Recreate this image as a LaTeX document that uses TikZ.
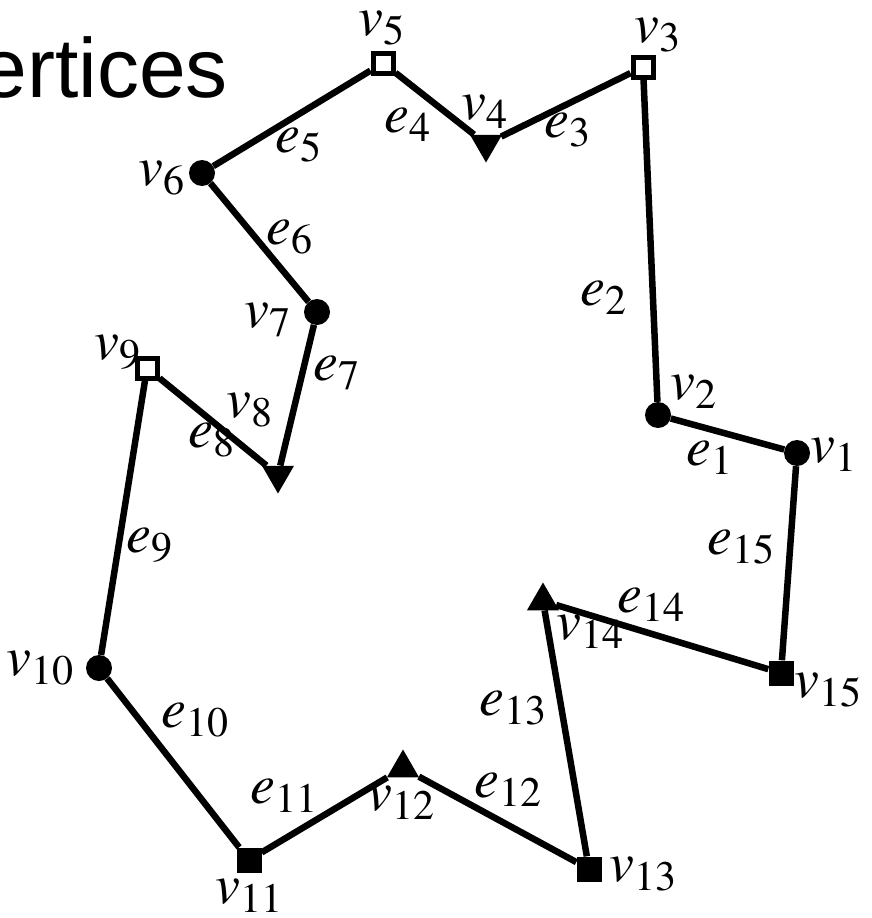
\documentclass[tikz,border=0pt]{standalone}
\usepackage{mathptmx}
\usepackage[no-math]{fontspec}
\newfontfamily\titlefont{Liberation Sans}
\usetikzlibrary{shapes.geometric}
\DeclareMathSizes{56}{56}{42}{34}
\begin{document}
\begin{tikzpicture}[x=1pt,y=-1pt,
  dotv/.style={circle,fill=black,inner sep=0pt,minimum size=26pt},
  opensq/.style={rectangle,draw=black,fill=white,line width=5pt,inner sep=0pt,minimum size=20pt},
  fillsq/.style={rectangle,fill=black,inner sep=0pt,minimum size=25pt},
  tridown/.style={regular polygon,regular polygon sides=3,shape border rotate=180,fill=black,inner sep=0pt,minimum size=37pt},
  triup/.style={regular polygon,regular polygon sides=3,fill=black,inner sep=0pt,minimum size=37pt},
  edge/.style={line width=6.5pt,black},
  lbl/.style={font=\fontsize{56}{60}\selectfont,inner sep=0pt},
  titletext/.style={font=\titlefont\fontsize{84}{90}\selectfont,inner sep=0pt}]
\useasboundingbox (0,0) rectangle (872,918);
\fill[white] (0,0) rectangle (872,918);
\node[titletext,anchor=base east] (title) at (228,97) {ertices};
% vertices
\node[dotv]    (v1)  at (797,453) {};
\node[dotv]    (v2)  at (658,415) {};
\node[opensq]  (v3)  at (643,67)  {};
\node[tridown] (v4)  at (486,144) {};
\node[opensq]  (v5)  at (383,63)  {};
\node[dotv]    (v6)  at (202,173) {};
\node[dotv]    (v7)  at (317,312) {};
\node[tridown] (v8)  at (278,475) {};
\node[opensq]  (v9)  at (147,368) {};
\node[dotv]    (v10) at (99,668)  {};
\node[fillsq]  (v11) at (249,860) {};
\node[triup]   (v12) at (403,768) {};
\node[fillsq]  (v13) at (589,869) {};
\node[triup]   (v14) at (543,601) {};
\node[fillsq]  (v15) at (781,673) {};
% edges
\draw[edge] (v1) -- (v2);
\draw[edge] (v2) -- (v3);
\draw[edge] (v3) -- (v4);
\draw[edge] (v4) -- (v5);
\draw[edge] (v5) -- (v6);
\draw[edge] (v6) -- (v7);
\draw[edge] (v7) -- (v8);
\draw[edge] (v8) -- (v9);
\draw[edge] (v9) -- (v10);
\draw[edge] (v10) -- (v11);
\draw[edge] (v11) -- (v12);
\draw[edge] (v12) -- (v13);
\draw[edge] (v13) -- (v14);
\draw[edge] (v14) -- (v15);
\draw[edge] (v15) -- (v1);
% vertex labels
\node[lbl] (l1)  at (834,455) {$v_{1}$};
\node[lbl] (l2)  at (694,392) {$v_{2}$};
\node[lbl] (l3)  at (658,35)  {$v_{3}$};
\node[lbl] (l4)  at (485,112) {$v_{4}$};
\node[lbl] (l5)  at (382,28)  {$v_{5}$};
\node[lbl] (l6)  at (162,178) {$v_{6}$};
\node[lbl] (l7)  at (268,320) {$v_{7}$};
\node[lbl] (l8)  at (250,410) {$v_{8}$};
\node[lbl] (l9)  at (118,352) {$v_{9}$};
\node[lbl] (l10) at (40,668)  {$v_{10}$};
\node[lbl] (l11) at (249,896) {$v_{11}$};
\node[lbl] (l12) at (401,803) {$v_{12}$};
\node[lbl] (l13) at (643,874) {$v_{13}$};
\node[lbl] (l14) at (590,632) {$v_{14}$};
\node[lbl] (l15) at (828,690) {$v_{15}$};
% edge labels
\node[lbl] (k1)  at (710,458) {$e_{1}$};
\node[lbl] (k2)  at (604,298) {$e_{2}$};
\node[lbl] (k3)  at (568,130) {$e_{3}$};
\node[lbl] (k4)  at (408,125) {$e_{4}$};
\node[lbl] (k5)  at (299,145) {$e_{5}$};
\node[lbl] (k6)  at (290,237) {$e_{6}$};
\node[lbl] (k7)  at (337,373) {$e_{7}$};
\node[lbl] (k8)  at (212,440) {$e_{8}$};
\node[lbl] (k9)  at (150,545) {$e_{9}$};
\node[lbl] (k10) at (195,720) {$e_{10}$};
\node[lbl] (k11) at (284,796) {$e_{11}$};
\node[lbl] (k12) at (508,790) {$e_{12}$};
\node[lbl] (k13) at (513,708) {$e_{13}$};
\node[lbl] (k14) at (651,605) {$e_{14}$};
\node[lbl] (k15) at (741,547) {$e_{15}$};
\end{tikzpicture}
\end{document}
